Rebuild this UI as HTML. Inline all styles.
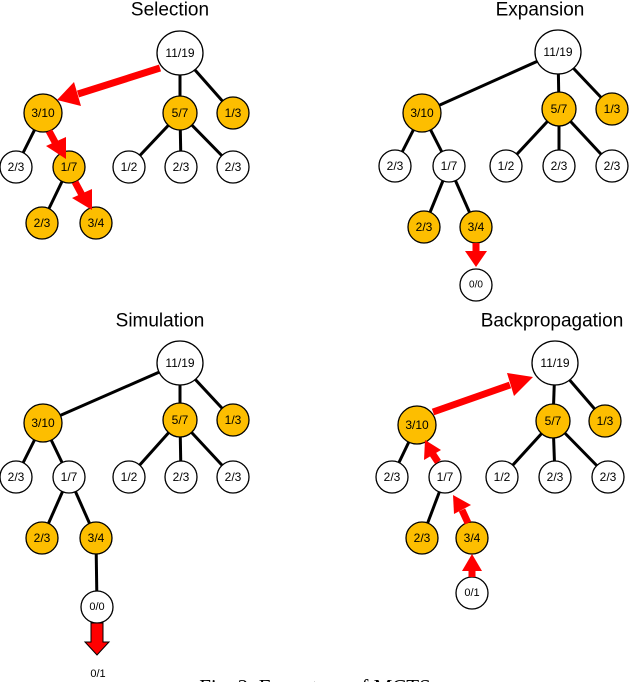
<!DOCTYPE html>
<html><head><meta charset="utf-8"><style>
html,body{margin:0;padding:0;background:#fff;width:630px;height:682px;overflow:hidden}
svg text{font-family:"Liberation Sans",sans-serif;font-size:12px;text-anchor:middle;dominant-baseline:central;fill:#000}
.t{font-size:19px}
.e{stroke:#000;stroke-width:3}
.w{fill:#fff;stroke:#000;stroke-width:1.3}
.y{fill:#FDBE00;stroke:#000;stroke-width:1.3}
.r{stroke:#f00;stroke-width:7;fill:none}
.h{fill:#f00}
</style></head><body>
<svg width="630" height="682" viewBox="0 0 630 682">
<g>
<text class="t" x="170" y="10">Selection</text>
<line class="e" x1="180" y1="53" x2="180" y2="113"/><line class="e" x1="180" y1="53" x2="233" y2="113"/>
<line class="e" x1="43" y1="113" x2="16" y2="167"/>
<line class="e" x1="69" y1="167" x2="42" y2="223"/>
<line class="e" x1="180" y1="113" x2="129" y2="167"/><line class="e" x1="180" y1="113" x2="181" y2="167"/><line class="e" x1="180" y1="113" x2="233" y2="167"/>
<ellipse class="w" cx="180" cy="53" rx="23" ry="22"/><text x="180" y="53">11/19</text>
<circle class="y" cx="43" cy="113" r="19"/><text x="43" y="113">3/10</text>
<circle class="y" cx="180" cy="113" r="17"/><text x="180" y="113">5/7</text>
<circle class="y" cx="233" cy="113" r="16"/><text x="233" y="113">1/3</text>
<circle class="w" cx="16" cy="167" r="16"/><text x="16" y="167">2/3</text>
<circle class="y" cx="69" cy="167" r="16"/><text x="69" y="167">1/7</text>
<circle class="w" cx="129" cy="167" r="16"/><text x="129" y="167">1/2</text>
<circle class="w" cx="181" cy="167" r="16"/><text x="181" y="167">2/3</text>
<circle class="w" cx="233" cy="167" r="16"/><text x="233" y="167">2/3</text>
<circle class="y" cx="42" cy="223" r="16"/><text x="42" y="223">2/3</text>
<circle class="y" cx="96" cy="223" r="16"/><text x="96" y="223">3/4</text>
<line class="r" x1="160" y1="68" x2="78" y2="94"/><polygon class="h" points="57,100 74,82 81,106"/>
<line class="r" x1="49" y1="131" x2="56" y2="144"/><polygon class="h" points="66,159 46,146 66,137"/>
<line class="r" x1="75" y1="182" x2="82" y2="195"/><polygon class="h" points="92,210 72,198 92,189"/>
</g>
<g>
<text class="t" x="540" y="10">Expansion</text>
<line class="e" x1="558" y1="52" x2="422" y2="113"/><line class="e" x1="558" y1="52" x2="559" y2="109"/><line class="e" x1="558" y1="52" x2="612" y2="109"/>
<line class="e" x1="422" y1="113" x2="395" y2="166"/><line class="e" x1="422" y1="113" x2="449" y2="166"/>
<line class="e" x1="449" y1="166" x2="424" y2="227"/><line class="e" x1="449" y1="166" x2="476" y2="227"/>
<line class="e" x1="559" y1="109" x2="506" y2="166"/><line class="e" x1="559" y1="109" x2="559" y2="166"/><line class="e" x1="559" y1="109" x2="612" y2="166"/>
<ellipse class="w" cx="558" cy="52" rx="23" ry="22"/><text x="558" y="52">11/19</text>
<circle class="y" cx="422" cy="113" r="19"/><text x="422" y="113">3/10</text>
<circle class="y" cx="559" cy="109" r="17"/><text x="559" y="109">5/7</text>
<circle class="y" cx="612" cy="109" r="16"/><text x="612" y="109">1/3</text>
<circle class="w" cx="395" cy="166" r="16"/><text x="395" y="166">2/3</text>
<circle class="w" cx="449" cy="166" r="16"/><text x="449" y="166">1/7</text>
<circle class="w" cx="506" cy="166" r="16"/><text x="506" y="166">1/2</text>
<circle class="w" cx="559" cy="166" r="16"/><text x="559" y="166">2/3</text>
<circle class="w" cx="612" cy="166" r="16"/><text x="612" y="166">2/3</text>
<circle class="y" cx="424" cy="227" r="16"/><text x="424" y="227">2/3</text>
<circle class="y" cx="476" cy="227" r="16"/><text x="476" y="227">3/4</text>
<line class="r" x1="476" y1="243" x2="476" y2="252"/><polygon class="h" points="465,251 487,251 476,267"/>
<circle class="w" cx="476" cy="285" r="16"/><text x="476" y="285" style="font-size:10px">0/0</text>
</g>
<g>
<text class="t" x="160" y="321">Simulation</text>
<line class="e" x1="180" y1="363" x2="43" y2="423"/><line class="e" x1="180" y1="363" x2="180" y2="420"/><line class="e" x1="180" y1="363" x2="233" y2="420"/>
<line class="e" x1="43" y1="423" x2="16" y2="477"/><line class="e" x1="43" y1="423" x2="69" y2="477"/>
<line class="e" x1="69" y1="477" x2="42" y2="538"/><line class="e" x1="69" y1="477" x2="96" y2="538"/>
<line class="e" x1="180" y1="420" x2="129" y2="477"/><line class="e" x1="180" y1="420" x2="181" y2="477"/><line class="e" x1="180" y1="420" x2="233" y2="477"/>
<line class="e" x1="96" y1="538" x2="97" y2="607"/>
<ellipse class="w" cx="180" cy="363" rx="23" ry="22"/><text x="180" y="363">11/19</text>
<circle class="y" cx="43" cy="423" r="19"/><text x="43" y="423">3/10</text>
<circle class="y" cx="180" cy="420" r="17"/><text x="180" y="420">5/7</text>
<circle class="y" cx="233" cy="420" r="16"/><text x="233" y="420">1/3</text>
<circle class="w" cx="16" cy="477" r="16"/><text x="16" y="477">2/3</text>
<circle class="w" cx="69" cy="477" r="16"/><text x="69" y="477">1/7</text>
<circle class="w" cx="129" cy="477" r="16"/><text x="129" y="477">1/2</text>
<circle class="w" cx="181" cy="477" r="16"/><text x="181" y="477">2/3</text>
<circle class="w" cx="233" cy="477" r="16"/><text x="233" y="477">2/3</text>
<circle class="y" cx="42" cy="538" r="16"/><text x="42" y="538">2/3</text>
<circle class="y" cx="96" cy="538" r="16"/><text x="96" y="538">3/4</text>
<circle class="w" cx="97" cy="607" r="16"/><text x="97" y="607" style="font-size:11px">0/0</text>
<polygon points="91,623 103,623 103,642 109,642 97,655 85,642 91,642" fill="#f00" stroke="#000" stroke-width="1"/>
<text x="98" y="674" style="font-size:11px">0/1</text>
</g>
<g>
<text class="t" x="552" y="321">Backpropagation</text>
<line class="e" x1="555" y1="363" x2="553" y2="421"/><line class="e" x1="555" y1="363" x2="605" y2="421"/>
<line class="e" x1="417" y1="425" x2="392" y2="477"/>
<line class="e" x1="445" y1="477" x2="422" y2="538"/>
<line class="e" x1="553" y1="421" x2="502" y2="477"/><line class="e" x1="553" y1="421" x2="555" y2="477"/><line class="e" x1="553" y1="421" x2="608" y2="477"/>
<ellipse class="w" cx="555" cy="363" rx="23" ry="22"/><text x="555" y="363">11/19</text>
<circle class="y" cx="417" cy="425" r="19"/><text x="417" y="425">3/10</text>
<circle class="y" cx="553" cy="421" r="17"/><text x="553" y="421">5/7</text>
<circle class="y" cx="605" cy="421" r="16"/><text x="605" y="421">1/3</text>
<circle class="w" cx="392" cy="477" r="16"/><text x="392" y="477">2/3</text>
<circle class="w" cx="445" cy="477" r="16"/><text x="445" y="477">1/7</text>
<circle class="w" cx="502" cy="477" r="16"/><text x="502" y="477">1/2</text>
<circle class="w" cx="555" cy="477" r="16"/><text x="555" y="477">2/3</text>
<circle class="w" cx="608" cy="477" r="16"/><text x="608" y="477">2/3</text>
<circle class="y" cx="422" cy="538" r="16"/><text x="422" y="538">2/3</text>
<circle class="y" cx="472" cy="538" r="16"/><text x="472" y="538">3/4</text>
<circle class="w" cx="472" cy="593" r="16"/><text x="472" y="593" style="font-size:11px">0/1</text>
<line class="r" x1="433" y1="412" x2="510" y2="385"/><polygon class="h" points="533,377 514,396 507,373"/>
<line class="r" x1="438" y1="462" x2="432" y2="453"/><polygon class="h" points="425,440 441,450 424,460"/>
<line class="r" x1="468" y1="523" x2="462" y2="510"/><polygon class="h" points="453,495 471,505 454,514"/>
<line class="r" x1="472" y1="577" x2="472" y2="570"/><polygon class="h" points="472,554 462,571 482,571"/>
</g>
<text x="315" y="687" style="font-family:'Liberation Serif',serif;font-size:21px">Fig. 2. Four steps of MCTS</text>
</svg>
</body></html>
